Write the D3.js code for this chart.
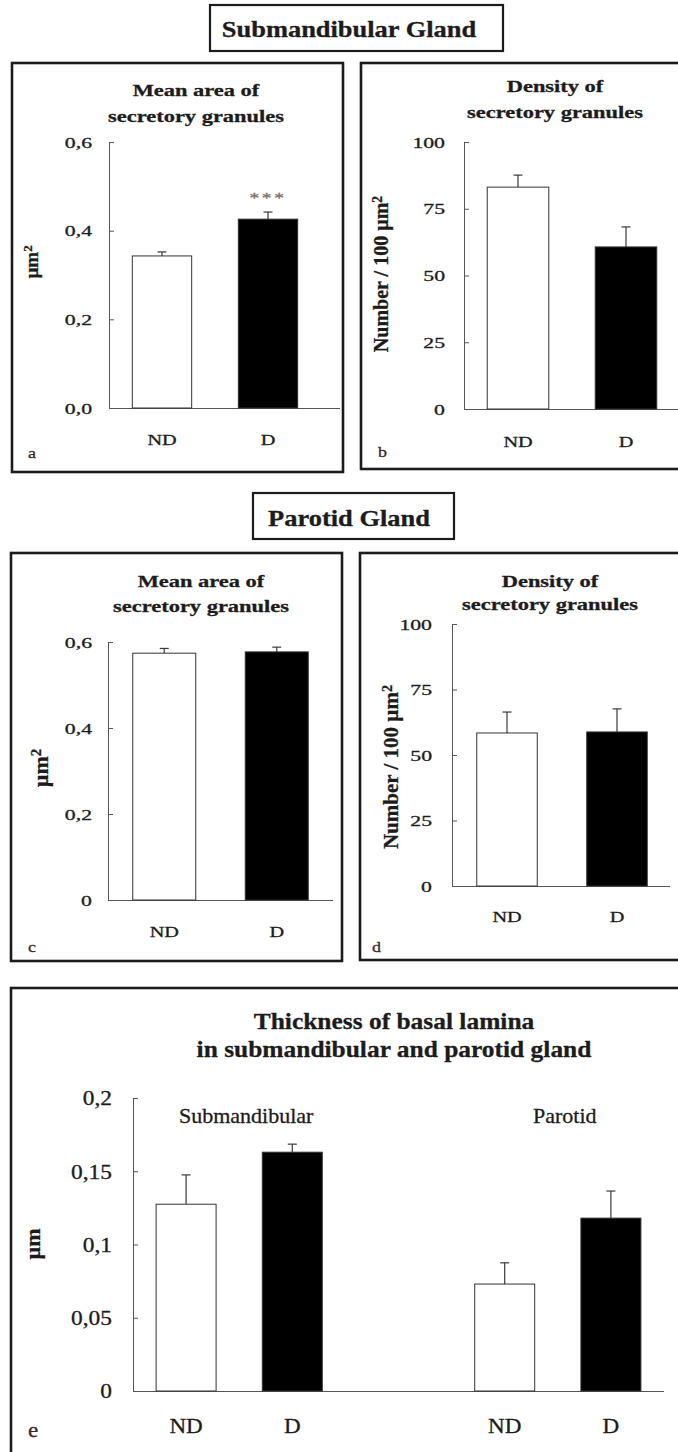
<!DOCTYPE html>
<html lang="en">
<head>
<meta charset="utf-8">
<title>Secretory granules and basal lamina | ND vs D</title>
<style>
  body { margin: 0; background: #fff; }
  svg { display: block; font-family: "Liberation Serif", "Times New Roman", serif; }
  svg text { stroke: currentColor; stroke-width: 0.3px; }
</style>
</head>
<body>
<script src="https://cdn.jsdelivr.net/npm/d3@7"></script>
<script>
// groups
const groups = ["ND", "D"];

// submandibular gland
const subArea = [0.343, 0.426];
const subAreaErr = [0.009, 0.016];
const subAreaSig = ["", "***"];
const subDensity = [83.1, 60.7];
const subDensityErr = [4.5, 7.5];

// parotid gland
const parArea = [0.574, 0.577];
const parAreaErr = [0.011, 0.011];
const parDensity = [58.4, 58.8];
const parDensityErr = [8.0, 8.8];

// basal lamina, both glands (the empty slot is the gap between glands)
const laminaSlots = ["sub ND", "sub D", "gap", "par ND", "par D"];
const laminaBars = ["sub ND", "sub D", "par ND", "par D"];
const laminaGroups = ["ND", "D", "ND", "D"];
const lamina = [0.1275, 0.163, 0.073, 0.118];
const laminaErr = [0.020, 0.0055, 0.0145, 0.0185];
const laminaGlands = ["Submandibular", "Parotid"];

// ticks
const areaTicks = [0, 0.2, 0.4, 0.6];
const subAreaTickLabels = ["0,0", "0,2", "0,4", "0,6"];
const parAreaTickLabels = ["0", "0,2", "0,4", "0,6"];
const densityTicks = [0, 25, 50, 75, 100];
const densityTickLabels = ["0", "25", "50", "75", "100"];
const laminaTicks = [0, 0.05, 0.1, 0.15, 0.2];
const laminaTickLabels = ["0", "0,05", "0,1", "0,15", "0,2"];

const ink = "#1c1c1c";
const axisColor = "#555";
const fills = { ND: "#fff", D: "#000" };

const svg = d3.select("body").append("svg")
    .attr("width", 678)
    .attr("height", 1452);

// text placed at (x, y), optionally rotated and stretched sideways like the scan
function label(g, x, y, s, o = {}) {
    let tf = `translate(${x},${y})`;
    if (o.rotate) tf += " rotate(-90)";
    if (o.sx) tf += ` scale(${o.sx},1)`;
    const t = g.append("text")
        .attr("transform", tf)
        .attr("text-anchor", o.anchor || "middle")
        .attr("font-size", o.size || 15)
        .attr("font-weight", o.bold ? "bold" : null)
        .attr("letter-spacing", o.ls || null)
        .attr("fill", o.fill || ink)
        .style("color", o.fill || ink)
        .text(s);
    if (o.sup) {
        t.append("tspan").attr("dy", "-0.45em").attr("font-size", "0.68em").text(o.sup);
    }
    return t;
}

function box(x0, y0, x1, y1, w) {
    svg.append("rect")
        .attr("x", x0).attr("y", y0)
        .attr("width", x1 - x0).attr("height", y1 - y0)
        .attr("fill", "none")
        .attr("stroke", ink)
        .attr("stroke-width", w);
}

function drawPanel(p) {
    const g = svg.append("g");
    box(...p.box, 2.6);

    const x = d3.scaleBand()
        .domain(p.slots)
        .range([p.left, p.right])
        .paddingInner(p.pad)
        .paddingOuter(p.pad / 2);
    const y = d3.scaleLinear()
        .domain([0, p.max])
        .range([p.bottom, p.top]);

    // y axis, ticks pointing inward
    const yAxis = d3.axisLeft(y)
        .tickValues(p.ticks)
        .tickFormat((d, i) => p.tickLabels[i])
        .tickSizeInner(-5)
        .tickSizeOuter(0)
        .tickPadding(p.tickPad);
    const ay = g.append("g")
        .attr("transform", `translate(${p.left},0)`)
        .call(yAxis)
        .attr("font-family", null)
        .attr("font-size", null);
    ay.select(".domain").attr("stroke", axisColor);
    ay.selectAll(".tick line").attr("stroke", axisColor);
    ay.selectAll(".tick text")
        .attr("x", 0)
        .attr("dy", "0.34em")
        .attr("transform", `translate(${-p.tickPad},0) scale(${p.tickSx},1)`)
        .attr("font-size", p.tickSize)
        .attr("fill", ink)
        .style("color", ink);

    // x axis line
    g.append("line")
        .attr("x1", p.left).attr("x2", p.xEnd)
        .attr("y1", y(0) + 0.5).attr("y2", y(0) + 0.5)
        .attr("stroke", axisColor);

    const bars = p.bars.map((c, i) => ({
        cat: c, group: p.groups[i], v: p.values[i], e: p.errs[i], sig: p.sig ? p.sig[i] : ""
    }));
    const cx = d => x(d.cat) + x.bandwidth() / 2;

    // error bars (upper half only)
    const eb = g.selectAll("g.err").data(bars).join("g").attr("class", "err")
        .attr("stroke", "#3a3a3a").attr("stroke-width", 1.2);
    eb.append("line")
        .attr("x1", cx).attr("x2", cx)
        .attr("y1", d => y(d.v)).attr("y2", d => y(d.v + d.e));
    eb.append("line")
        .attr("x1", d => cx(d) - 4.5).attr("x2", d => cx(d) + 4.5)
        .attr("y1", d => y(d.v + d.e)).attr("y2", d => y(d.v + d.e));

    g.selectAll("rect.bar").data(bars).join("rect")
        .attr("class", "bar")
        .attr("x", d => x(d.cat))
        .attr("y", d => y(d.v))
        .attr("width", x.bandwidth())
        .attr("height", d => y(0) - y(d.v))
        .attr("fill", d => fills[d.group])
        .attr("stroke", "#333")
        .attr("stroke-width", 1);

    bars.filter(d => d.sig).forEach(d => {
        label(g, cx(d), y(d.v + d.e) - 9, d.sig,
            { size: 15, sx: 1.3, ls: 2, fill: "#7d6b5d" });
    });

    // category labels
    bars.forEach(d => {
        label(g, cx(d), p.catY, d.group, { size: p.catSize, sx: p.catSx });
    });

    // title
    p.title.forEach((t, i) => {
        label(g, p.titleX, p.titleY[i], t, { size: p.titleSize, sx: p.titleSx, bold: true });
    });

    // y label
    label(g, p.yLabelX, p.yLabelY, p.yLabel,
        { size: p.yLabelSize, bold: true, rotate: true, sup: p.yLabelSup });

    // panel letter
    label(g, p.letterX, p.letterY, p.letter,
        { size: p.letterSize || 15, anchor: "start", sx: p.letterSx || 1.2, fill: "#3b2a2a" });

    return { g, x, y };
}

// headers
box(210, 5, 503, 51, 2.2);
label(svg, 349, 37, "Submandibular Gland", { size: 23, bold: true, sx: 1.15 });
box(253, 493, 454, 539, 2.2);
label(svg, 349, 526, "Parotid Gland", { size: 23, bold: true, sx: 1.15 });

const smallText = {
    tickSize: 15, tickSx: 1.45, catSize: 15, catSx: 1.35, titleSize: 17, titleSx: 1.32
};

// a
drawPanel(Object.assign({}, smallText, {
    box: [12, 63, 343, 472],
    slots: groups, bars: groups, groups: groups, values: subArea, errs: subAreaErr, sig: subAreaSig,
    left: 109, right: 321, xEnd: 340, bottom: 408, top: 142, max: 0.6, pad: 0.44,
    ticks: areaTicks, tickLabels: subAreaTickLabels, tickPad: 17,
    catY: 445,
    title: ["Mean area of", "secretory granules"], titleX: 196, titleY: [96, 122],
    yLabel: "µm", yLabelSup: "2", yLabelX: 38, yLabelY: 262, yLabelSize: 19,
    letter: "a", letterX: 28, letterY: 458
}));

// b
drawPanel(Object.assign({}, smallText, {
    box: [361, 63, 690, 469],
    slots: groups, bars: groups, groups: groups, values: subDensity, errs: subDensityErr,
    left: 464, right: 680, xEnd: 680, bottom: 409, top: 142, max: 100, pad: 0.43,
    ticks: densityTicks, tickLabels: densityTickLabels, tickPad: 19,
    catY: 447,
    title: ["Density of", "secretory granules"], titleX: 555, titleY: [92, 118],
    yLabel: "Number / 100 µm", yLabelSup: "2", yLabelX: 388, yLabelY: 274, yLabelSize: 20,
    letter: "b", letterX: 378, letterY: 457
}));

// c
drawPanel(Object.assign({}, smallText, {
    box: [11, 553, 342, 961],
    slots: groups, bars: groups, groups: groups, values: parArea, errs: parAreaErr,
    left: 108, right: 333, xEnd: 333, bottom: 900, top: 642, max: 0.6, pad: 0.44,
    ticks: areaTicks, tickLabels: parAreaTickLabels, tickPad: 16,
    catY: 937,
    title: ["Mean area of", "secretory granules"], titleX: 201, titleY: [587, 612],
    yLabel: "µm", yLabelSup: "2", yLabelX: 48, yLabelY: 768, yLabelSize: 22,
    letter: "c", letterX: 28, letterY: 952
}));

// d
drawPanel(Object.assign({}, smallText, {
    box: [360, 553, 690, 960],
    slots: groups, bars: groups, groups: groups, values: parDensity, errs: parDensityErr,
    left: 452, right: 672, xEnd: 670, bottom: 886, top: 624, max: 100, pad: 0.45,
    ticks: densityTicks, tickLabels: densityTickLabels, tickPad: 20,
    catY: 922,
    title: ["Density of", "secretory granules"], titleX: 550, titleY: [587, 610],
    yLabel: "Number / 100 µm", yLabelSup: "2", yLabelX: 398, yLabelY: 767, yLabelSize: 21,
    letter: "d", letterX: 372, letterY: 952
}));

// e
const e = drawPanel({
    box: [11, 988, 690, 1475],
    slots: laminaSlots, bars: laminaBars, groups: laminaGroups, values: lamina, errs: laminaErr,
    left: 133, right: 664, xEnd: 664, bottom: 1391, top: 1098, max: 0.2, pad: 0.435,
    ticks: laminaTicks, tickLabels: laminaTickLabels, tickPad: 21, tickSize: 20, tickSx: 1.17,
    catY: 1433, catSize: 22, catSx: 1.05,
    title: ["Thickness of basal lamina", "in submandibular and parotid gland"],
    titleX: 394, titleY: [1029, 1057], titleSize: 24, titleSx: 1.06,
    yLabel: "µm", yLabelX: 40, yLabelY: 1244, yLabelSize: 22,
    letter: "e", letterX: 28, letterY: 1437, letterSize: 21, letterSx: 1.1
});

// gland names over each pair of bars
laminaGlands.forEach((name, i) => {
    const mid = (e.x(laminaBars[2 * i]) + e.x(laminaBars[2 * i + 1]) + e.x.bandwidth()) / 2;
    label(e.g, mid + 7, 1123, name, { size: 22 });
});
</script>
</body>
</html>
